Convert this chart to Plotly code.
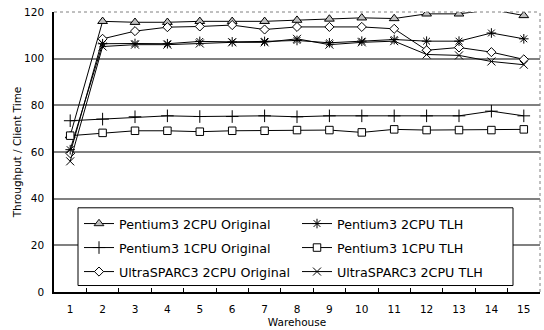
import plotly.graph_objects as go

# Warehouse counts on the x axis
warehouses = [str(i) for i in range(1, 16)]

# Throughput / client time for each configuration
p3_2cpu_original = [67, 116, 115.6, 115.6, 116, 116, 116, 116.5, 117, 117.5, 117.2, 119.2, 119.2, 121, 118.5]
p3_2cpu_tlh = [61, 106.4, 106.5, 106.4, 107.4, 107.2, 107.4, 107.8, 106.8, 107.5, 108.2, 107.5, 107.5, 111, 108.5]
p3_1cpu_original = [73.4, 74.1, 75.1, 75.5, 75.2, 75.2, 75.5, 75.1, 75.5, 75.5, 75.5, 75.5, 75.5, 77.5, 75.5]
p3_1cpu_tlh = [67, 68.2, 69.1, 69.1, 68.7, 69.1, 69.1, 69.4, 69.4, 68.4, 69.7, 69.4, 69.4, 69.4, 69.7]
us3_2cpu_original = [59.5, 108.5, 111.8, 113.5, 113.8, 114.4, 112.5, 113.6, 113.6, 113.6, 112.8, 103.6, 104.8, 102.8, 99.7]
us3_2cpu_tlh = [56, 105.2, 106, 106, 106.5, 107, 107, 108.5, 106, 107, 107.5, 101.8, 101.4, 98.8, 97.4]

Y_MAX = 120

series = [
    ("Pentium3 2CPU Original", p3_2cpu_original, "triangle-up", 8.5, "#c0c0c0", "legend"),
    ("Pentium3 1CPU Original", p3_1cpu_original, "cross-thin-open", 9, "#000000", "legend"),
    ("UltraSPARC3 2CPU Original", us3_2cpu_original, "diamond", 7, "#ffffff", "legend"),
    ("Pentium3 2CPU TLH", p3_2cpu_tlh, "asterisk-open", 8, "#000000", "legend2"),
    ("Pentium3 1CPU TLH", p3_1cpu_tlh, "square", 7.5, "#ffffff", "legend2"),
    ("UltraSPARC3 2CPU TLH", us3_2cpu_tlh, "x-thin-open", 8, "#000000", "legend2"),
]

fig = go.Figure()
for name, vals, sym, size, fill, leg in series:
    # points above the axis maximum keep their line but hide their marker
    opac = [0 if v > Y_MAX else 1 for v in vals]
    fig.add_trace(go.Scatter(
        x=warehouses, y=vals, name=name, mode="lines+markers",
        line=dict(color="#000000", width=1),
        marker=dict(symbol=sym, size=size, color=fill, opacity=opac,
                    line=dict(color="#000000", width=1)),
        legend=leg, legendgroup=name,
    ))

L, R, T, B = 54, 4, 11.5, 37.5
W, H = 544, 330
pw, ph = W - L - R, H - T - B

def px_x(p):
    return (p - L) / pw

def px_y(p):
    return (H - B - p) / ph

font = "DejaVu Sans, Verdana, sans-serif"
legend_common = dict(
    bgcolor="rgba(0,0,0,0)", borderwidth=0, orientation="v",
    yanchor="top", xanchor="left", tracegroupgap=4.5,
    font=dict(family=font, size=12.7, color="#000000"),
)

fig.update_layout(
    width=W, height=H,
    margin=dict(l=L, r=R, t=T, b=B),
    paper_bgcolor="#ffffff", plot_bgcolor="#ffffff",
    font=dict(family=font, size=10.5, color="#000000"),
    legend=dict(x=px_x(79), y=px_y(209), **legend_common),
    legend2=dict(x=px_x(297), y=px_y(209), **legend_common),
    xaxis=dict(
        type="category", tickson="boundaries", ticks="inside", ticklen=4,
        tickcolor="#000000", showline=True, linecolor="#000000", linewidth=1.5,
        showgrid=False, range=[-0.5, 14.5], ticklabelstandoff=7,
        title=dict(text="Warehouse", font=dict(size=10.5), standoff=4),
        tickfont=dict(size=10.5),
    ),
    yaxis=dict(
        range=[0, Y_MAX], dtick=20, showline=True, linecolor="#000000", linewidth=1.5,
        ticks="", ticklabelstandoff=6,
        showgrid=True, gridcolor="#808080", gridwidth=1.5, zeroline=False,
        title=dict(text="Throughput / Client Time", font=dict(size=10.5), standoff=0),
        tickfont=dict(size=10.5),
    ),
    shapes=[
        # dotted frame on the top and right of the plot area
        dict(type="line", xref="paper", yref="paper", x0=0, x1=1, y0=1, y1=1,
             line=dict(color="#808080", width=1, dash="dot")),
        dict(type="line", xref="paper", yref="paper", x0=1, x1=1, y0=0, y1=1,
             line=dict(color="#808080", width=1, dash="dot")),
        # legend box
        dict(type="rect", xref="paper", yref="paper",
             x0=px_x(78), x1=px_x(513), y0=px_y(286), y1=px_y(208),
             line=dict(color="#000000", width=1), fillcolor="#ffffff", layer="above"),
    ],
)

fig.write_html("out.html")
